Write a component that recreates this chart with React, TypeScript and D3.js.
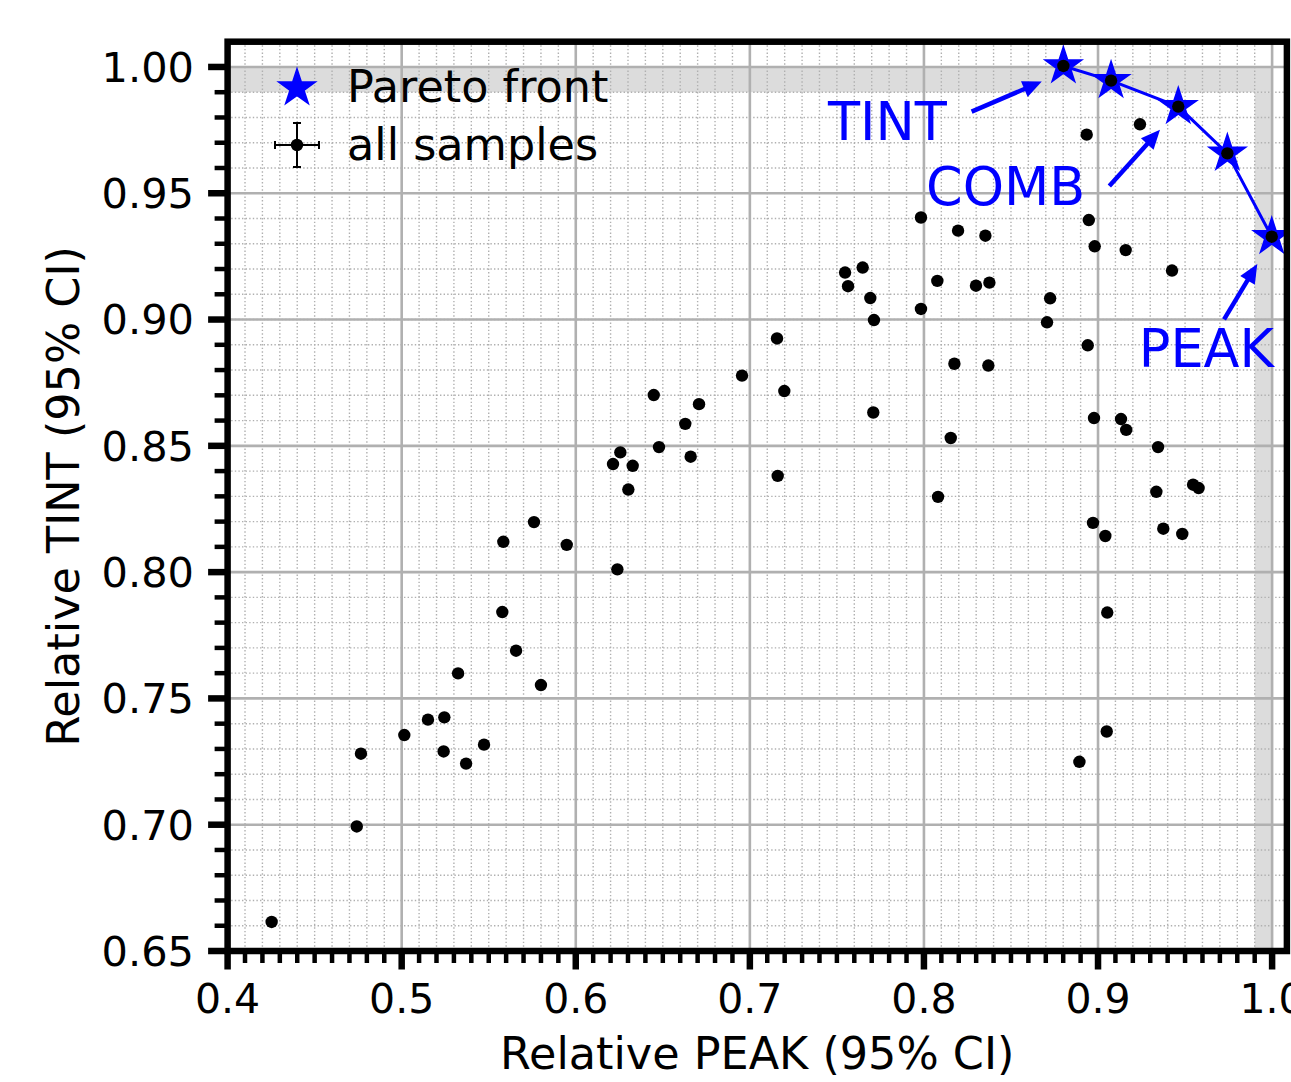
import React from "react";
import * as d3 from "d3";

// Relative PEAK / TINT of every evaluated sample
const samplePeak = [
  0.4253, 0.4742, 0.4766, 0.5015, 0.5151, 0.5245, 0.5241, 0.5324, 0.537, 0.5473,
  0.5578, 0.5584, 0.5657, 0.576, 0.58, 0.5948, 0.6214, 0.6256, 0.6302, 0.6327,
  0.6239, 0.6448, 0.6478, 0.6629, 0.666, 0.6708, 0.6955, 0.7156, 0.7198, 0.716,
  0.7547, 0.7564, 0.7648, 0.7692, 0.7713, 0.7709, 0.7983, 0.7983, 0.8077, 0.8081,
  0.8154, 0.8175, 0.8196, 0.8299, 0.8353, 0.8376, 0.837, 0.8707, 0.8725, 0.8935,
  0.8947, 0.8941, 0.8981, 0.8977, 0.8971, 0.9042, 0.9053, 0.905, 0.8893, 0.9241,
  0.9159, 0.9132, 0.9162, 0.9345, 0.9335, 0.9375, 0.9484, 0.9425, 0.9546, 0.9578,
  0.8801, 0.9075, 0.9461, 0.9743, 0.9998,
];
const sampleTint = [
  0.6615, 0.6993, 0.7281, 0.7355, 0.7416, 0.7425, 0.729, 0.7599, 0.7242, 0.7317,
  0.7842, 0.812, 0.7689, 0.8198, 0.7553, 0.8108, 0.8428, 0.8474, 0.8327, 0.8421,
  0.8011, 0.8701, 0.8495, 0.8587, 0.8457, 0.8665, 0.8778, 0.8925, 0.8717, 0.8381,
  0.9186, 0.9132, 0.9206, 0.9085, 0.8998, 0.8632, 0.9404, 0.9042, 0.9153, 0.8298,
  0.8531, 0.8825, 0.9352, 0.9134, 0.9332, 0.9146, 0.8818, 0.8989, 0.9084, 0.9732,
  0.9394, 0.8898, 0.929, 0.861, 0.8195, 0.8143, 0.784, 0.7369, 0.7249, 0.9773,
  0.9275, 0.8606, 0.8563, 0.8495, 0.8318, 0.8172, 0.8151, 0.9194, 0.8346, 0.8333,
  1.0004, 0.9946, 0.9843, 0.9658, 0.9328,
];

// Non-dominated samples (Pareto front)
const paretoPeak = [0.8801, 0.9075, 0.9461, 0.9743, 0.9998];
const paretoTint = [1.0004, 0.9946, 0.9843, 0.9658, 0.9328];

const xMajorTicks = [0.4, 0.5, 0.6, 0.7, 0.8, 0.9, 1.0];
const xTickLabels = ["0.4", "0.5", "0.6", "0.7", "0.8", "0.9", "1.0"];
const yMajorTicks = [0.65, 0.7, 0.75, 0.8, 0.85, 0.9, 0.95, 1.0];
const yTickLabels = ["0.65", "0.70", "0.75", "0.80", "0.85", "0.90", "0.95", "1.00"];

// Labelled optima: text anchor, arrow tail and arrow tip in data units
const annLabels = ["TINT", "COMB", "PEAK"];
const annText = [
  [0.7449, 0.9711],
  [0.8012, 0.9454],
  [0.9234, 0.8814],
];
const annTail = [
  [0.8274, 0.9823],
  [0.9065, 0.9529],
  [0.9724, 0.9001],
];
const annTip = [
  [0.8677, 0.9942],
  [0.9356, 0.9751],
  [0.9915, 0.922],
];

const W = 1291;
const H = 1082;
const FONT = "'DejaVu Sans', sans-serif";
const BLUE = "#0000ff";
const GRID = "#b0b0b0";

const x = d3.scaleLinear().domain([0.4, 1.0085]).range([227.6, 1286.9]);
const y = d3.scaleLinear().domain([0.65, 1.01]).range([951.0, 41.7]);

const starPath = (R: number) =>
  d3.symbol().type(d3.symbolStar).size((R * R) / 0.8908130915292852)() as string;

function range(a: number, b: number, step: number) {
  const out: number[] = [];
  const n = Math.round((b - a) / step);
  for (let i = 0; i <= n; i++) out.push(+(a + i * step).toFixed(4));
  return out;
}

function Arrow({ x1, y1, x2, y2 }: { x1: number; y1: number; x2: number; y2: number }) {
  const dx = x2 - x1;
  const dy = y2 - y1;
  const len = Math.hypot(dx, dy);
  const ux = dx / len;
  const uy = dy / len;
  const hl = 19;
  const hw = 8.5;
  const bx = x2 - ux * hl;
  const by = y2 - uy * hl;
  const pts = [
    [x2, y2],
    [bx - uy * hw, by + ux * hw],
    [bx + uy * hw, by - ux * hw],
  ];
  return (
    <g>
      <line x1={x1} y1={y1} x2={bx + ux * 2} y2={by + uy * 2} stroke={BLUE} strokeWidth={4.5} />
      <polygon points={pts.map((p) => p.join(",")).join(" ")} fill={BLUE} />
    </g>
  );
}

export default function App() {
  const [x0, x1] = x.range();
  const [y0, y1] = [y(0.65), y(1.01)];
  const xMinor = range(0.4, 1.0, 0.01).filter((v) => !xMajorTicks.some((m) => Math.abs(m - v) < 1e-6));
  const yMinor = range(0.65, 1.0, 0.01).filter((v) => !yMajorTicks.some((m) => Math.abs(m - v) < 1e-6));
  const xMinorGrid = range(0.4, 1.0, 0.01);
  const yMinorGrid = range(0.65, 1.0, 0.01);

  const line = d3
    .line<number>()
    .x((_, i) => x(paretoPeak[i]))
    .y((d) => y(d));

  const star = starPath(18.5);

  return (
    <svg
      width={W}
      height={H}
      style={{ position: "absolute", left: 0, top: 0, display: "block" }}
      fontFamily={FONT}
    >
      <defs>
        <clipPath id="plot-area">
          <rect x={x0} y={y1} width={x1 - x0} height={y0 - y1} />
        </clipPath>
      </defs>
      <rect width={W} height={H} fill="#ffffff" />

      <g clipPath="url(#plot-area)">
        {/* 99 % bands of each objective */}
        <rect x={x0} y={y(1.0)} width={x(1.0) - x0} height={y(0.99) - y(1.0)} fill="#dcdcdc" />
        <rect x={x(0.99)} y={y(0.99)} width={x(1.0) - x(0.99)} height={y0 - y(0.99)} fill="#dcdcdc" />

        {/* minor grid */}
        {xMinorGrid.map((v) => (
          <line key={"xm" + v} x1={x(v)} x2={x(v)} y1={y1} y2={y0} stroke={GRID} strokeWidth={1.4} strokeDasharray="1.4,2.2" />
        ))}
        {yMinorGrid.map((v) => (
          <line key={"ym" + v} x1={x0} x2={x1} y1={y(v)} y2={y(v)} stroke={GRID} strokeWidth={1.4} strokeDasharray="1.4,2.2" />
        ))}
        {/* major grid */}
        {xMajorTicks.map((v) => (
          <line key={"xM" + v} x1={x(v)} x2={x(v)} y1={y1} y2={y0} stroke={GRID} strokeWidth={2.6} />
        ))}
        {yMajorTicks.map((v) => (
          <line key={"yM" + v} x1={x0} x2={x1} y1={y(v)} y2={y(v)} stroke={GRID} strokeWidth={2.6} />
        ))}

        {/* Pareto front */}
        <path d={line(paretoTint) as string} fill="none" stroke={BLUE} strokeWidth={3} />
        {paretoPeak.map((p, i) => (
          <path
            key={"st" + i}
            d={star}
            transform={`translate(${x(p)},${y(paretoTint[i])})`}
            fill={BLUE}
            stroke={BLUE}
            strokeWidth={2}
          />
        ))}

        {/* all samples */}
        {samplePeak.map((p, i) => (
          <circle key={"s" + i} cx={x(p)} cy={y(sampleTint[i])} r={6.2} fill="#000000" />
        ))}
      </g>

      {/* annotations */}
      {annLabels.map((lab, i) => (
        <g key={lab}>
          <text x={x(annText[i][0])} y={y(annText[i][1])} fontSize={52.5} fill={BLUE}>
            {lab}
          </text>
          <Arrow x1={x(annTail[i][0])} y1={y(annTail[i][1])} x2={x(annTip[i][0])} y2={y(annTip[i][1])} />
        </g>
      ))}

      {/* legend */}
      <g>
        <path d={star} transform="translate(297,88)" fill={BLUE} stroke={BLUE} strokeWidth={2} />
        <text x={347} y={102} fontSize={44.5} fill="#000">
          Pareto front
        </text>
        <g stroke="#000" strokeWidth={2}>
          <line x1={275} x2={319} y1={145} y2={145} />
          <line x1={275} x2={275} y1={141} y2={149} />
          <line x1={319} x2={319} y1={141} y2={149} />
          <line x1={297} x2={297} y1={123} y2={167} />
          <line x1={293} x2={301} y1={123} y2={123} />
          <line x1={293} x2={301} y1={167} y2={167} />
        </g>
        <circle cx={297} cy={145} r={6.2} fill="#000" />
        <text x={347} y={160} fontSize={44.5} fill="#000">
          all samples
        </text>
      </g>

      {/* ticks */}
      <g stroke="#000">
        {xMinor.map((v) => (
          <line key={"xt" + v} x1={x(v)} x2={x(v)} y1={y0} y2={y0 + 12} strokeWidth={4.5} />
        ))}
        {xMajorTicks.map((v) => (
          <line key={"xT" + v} x1={x(v)} x2={x(v)} y1={y0} y2={y0 + 18.5} strokeWidth={6.5} />
        ))}
        {yMinor.map((v) => (
          <line key={"yt" + v} x1={x0} x2={x0 - 13} y1={y(v)} y2={y(v)} strokeWidth={4.5} />
        ))}
        {yMajorTicks.map((v) => (
          <line key={"yT" + v} x1={x0} x2={x0 - 19.5} y1={y(v)} y2={y(v)} strokeWidth={6.5} />
        ))}
      </g>

      {/* spines */}
      <rect x={x0} y={y1} width={x1 - x0} height={y0 - y1} fill="none" stroke="#000" strokeWidth={6.5} />

      {/* tick labels */}
      {xMajorTicks.map((v, i) => (
        <text key={"xl" + v} x={x(v)} y={1013} fontSize={41} textAnchor="middle" fill="#000">
          {xTickLabels[i]}
        </text>
      ))}
      {yMajorTicks.map((v, i) => (
        <text key={"yl" + v} x={194} y={y(v)} dy="0.36em" fontSize={41.5} textAnchor="end" fill="#000">
          {yTickLabels[i]}
        </text>
      ))}

      {/* axis titles */}
      <text x={(x0 + x1) / 2} y={1069} fontSize={44.5} textAnchor="middle" fill="#000">
        Relative PEAK (95% CI)
      </text>
      <text
        transform={`translate(79,${(y0 + y1) / 2}) rotate(-90)`}
        fontSize={44.5}
        textAnchor="middle"
        fill="#000"
      >
        Relative TINT (95% CI)
      </text>
    </svg>
  );
}
